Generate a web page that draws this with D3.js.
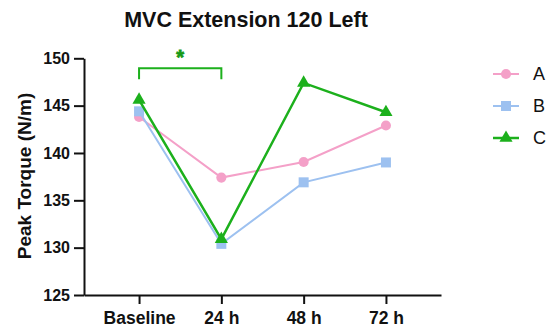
<!DOCTYPE html>
<html>
<head>
<meta charset="utf-8">
<script src="https://cdn.jsdelivr.net/npm/d3@7"></script>
<style>
  html, body { margin: 0; padding: 0; background: #fff; }
  svg { display: block; font-family: "Liberation Sans", Arial, sans-serif; }
</style>
</head>
<body>
<svg id="chart" width="556" height="334"></svg>
<script>
// Time points and group means (peak torque, N/m)
const timepoints = ["Baseline", "24 h", "48 h", "72 h"];
const groupA = [143.8, 137.4, 139.05, 142.9];
const groupB = [144.4, 130.4, 136.9, 139.0];
const groupC = [145.6, 130.9, 147.4, 144.3];
const yTicks = [125, 130, 135, 140, 145, 150];
const seriesNames = ["A", "B", "C"];

const series = [
  { name: seriesNames[0], values: groupA, color: "#f4a0c8", symbol: d3.symbolCircle, size: 80, width: 2 },
  { name: seriesNames[1], values: groupB, color: "#9dc1f0", symbol: d3.symbolSquare, size: 100, width: 2 },
  { name: seriesNames[2], values: groupC, color: "#1cb01c", symbol: d3.symbolTriangle, size: 75, width: 2.5 }
];

const svg = d3.select("#chart");

const x = d3.scalePoint().domain(timepoints).range([84, 441]).padding(0.669);
const y = d3.scaleLinear().domain([125, 150]).range([295, 58.3]);

// Title
svg.append("text")
  .attr("x", 246).attr("y", 27)
  .attr("text-anchor", "middle")
  .attr("font-size", 21.5).attr("font-weight", "bold")
  .attr("fill", "#111")
  .text("MVC Extension 120 Left");

// Y axis
const yAxis = svg.append("g")
  .attr("transform", "translate(84,0)")
  .call(d3.axisLeft(y).tickValues(yTicks).tickSize(10).tickPadding(4).tickSizeOuter(0));
yAxis.select(".domain").attr("stroke", "#111").attr("stroke-width", 2);
yAxis.selectAll(".tick line").attr("stroke", "#111").attr("stroke-width", 2);
yAxis.selectAll(".tick text")
  .attr("font-size", 16).attr("font-weight", "bold").attr("fill", "#111")
  .attr("font-family", "Liberation Sans, Arial, sans-serif");

// X axis
const xAxis = svg.append("g")
  .attr("transform", "translate(0,295)")
  .call(d3.axisBottom(x).tickSize(9).tickPadding(8).tickSizeOuter(0));
xAxis.select(".domain").attr("stroke", "#111").attr("stroke-width", 2);
xAxis.selectAll(".tick line").attr("stroke", "#111").attr("stroke-width", 2);
xAxis.selectAll(".tick text")
  .attr("font-size", 17.5).attr("font-weight", "bold").attr("fill", "#111")
  .attr("font-family", "Liberation Sans, Arial, sans-serif");

// Y axis label
svg.append("text")
  .attr("transform", "translate(31,176) rotate(-90)")
  .attr("text-anchor", "middle")
  .attr("font-size", 19).attr("font-weight", "bold")
  .attr("fill", "#111")
  .text("Peak Torque (N/m)");

// Lines and markers
const line = d3.line()
  .x((d, i) => x(timepoints[i]))
  .y(d => y(d));

series.forEach(s => {
  const g = svg.append("g");
  g.append("path")
    .datum(s.values)
    .attr("d", line)
    .attr("fill", "none")
    .attr("stroke", s.color)
    .attr("stroke-width", s.width);
  g.selectAll("path.marker")
    .data(s.values)
    .join("path")
    .attr("class", "marker")
    .attr("d", d3.symbol().type(s.symbol).size(s.size))
    .attr("transform", (d, i) => `translate(${x(timepoints[i])},${y(d)})`)
    .attr("fill", s.color);
});

// Significance bracket: Baseline vs 24 h (group C)
const sigColor = "#1cb01c";
const bracketTop = 68.3, bracketBottom = 79.3;
const x0 = x(timepoints[0]), x1 = x(timepoints[1]);
svg.append("path")
  .attr("d", `M${x0},${bracketBottom}V${bracketTop}H${x1}V${bracketBottom}`)
  .attr("fill", "none")
  .attr("stroke", sigColor)
  .attr("stroke-width", 2);
svg.append("text")
  .attr("x", (x0 + x1) / 2).attr("y", 64)
  .attr("text-anchor", "middle")
  .attr("font-size", 20).attr("font-weight", "bold")
  .attr("fill", "#179a17")
  .attr("stroke", "#179a17").attr("stroke-width", 0.8)
  .text("*");

// Legend
const legend = svg.append("g");
series.forEach((s, i) => {
  const cy = 74 + i * 32;
  legend.append("line")
    .attr("x1", 493).attr("x2", 519)
    .attr("y1", cy).attr("y2", cy)
    .attr("stroke", s.color).attr("stroke-width", s.width);
  legend.append("path")
    .attr("d", d3.symbol().type(s.symbol).size(s.size))
    .attr("transform", `translate(506,${cy})`)
    .attr("fill", s.color);
  legend.append("text")
    .attr("x", 533).attr("y", cy)
    .attr("dy", "0.36em")
    .attr("font-size", 18)
    .attr("fill", "#111")
    .text(s.name);
});
</script>
</body>
</html>
